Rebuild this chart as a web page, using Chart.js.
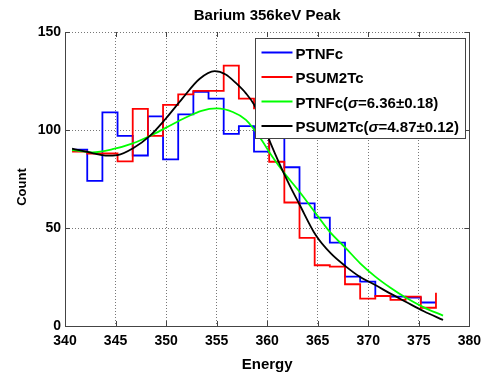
<!DOCTYPE html>
<html>
<head>
<meta charset="utf-8">
<script src="https://cdn.jsdelivr.net/npm/chart.js@4.4.1/dist/chart.umd.min.js"></script>
<style>
  body { margin: 0; background: #fff; }
  canvas { display: block; }
</style>
</head>
<body>
<canvas id="chart" width="488" height="373"></canvas>
<script>
// left edge of each histogram bin (keV), plus the closing edge
const binEdges = [340.7, 342.2, 343.7, 345.2, 346.7, 348.2, 349.7, 351.2, 352.7, 354.2, 355.7, 357.2, 358.7,
  360.2, 361.7, 363.2, 364.7, 366.2, 367.7, 369.2, 370.7, 372.2, 373.7, 375.2, 376.7];

// counts per bin
const ptnfcCounts = [90, 74, 109, 97, 87, 107, 85, 108, 119.5, 116, 98, 102, 89,
  100, 81, 62.6, 55.3, 42.5, 25.2, 22.6, 15.3, 15, 14.5, 12, 12];
const psum2tcCounts = [89, 88, 88, 84, 110.8, 97, 112.8, 118.2, 120, 120, 132.8, 116, 111,
  83.8, 63, 45, 31, 30.3, 21.3, 14, 15.3, 13.3, 15, 9.3, 17];

// fitted curves
const ptnfcFitX = [340.7, 342.7, 344.7, 346.7, 348.5, 350, 352, 353.5, 355, 356.6, 357.9, 358.6, 359.5,
  360.5, 361.7, 363.2, 364.8, 366.2, 367.8, 369.2, 370.7, 372.2, 373.7, 375.5, 377.4];
const ptnfcFitY = [89.8, 88.6, 90.2, 93.2, 97.2, 101.2, 106.5, 109.8, 111, 109.2, 105.2, 101, 94.5,
  86.5, 78, 68.5, 57.5, 48, 39.6, 32, 25.2, 19.5, 14.5, 9.5, 5.3];

const psum2tcFitX = [340.7, 342.8, 344, 345.2, 346.7, 348.4, 350, 351.6, 353.3, 354.8, 355.9, 356.9, 357.9,
  358.7, 359.5, 360.2, 361.2, 362.2, 363.2, 364.8, 366.3, 367.8, 369.2, 370.7, 372.2, 373.7, 375.5, 377.4];
const psum2tcFitY = [90.5, 88.1, 86.9, 87.2, 90.6, 97, 106, 116, 126, 130, 128.3, 124, 118.7,
  113, 104, 95, 83, 72, 62, 46.4, 37, 30.3, 25, 20.9, 16.5, 12.4, 7.5, 3.1];

const xTicks = [340, 345, 350, 355, 360, 365, 370, 375, 380];
const yTicks = [0, 50, 100, 150];

const seriesLabels = ["PTNFc", "PSUM2Tc", "PTNFc(σ=6.36±0.18)", "PSUM2Tc(σ=4.87±0.12)"];

const FONT = "'Liberation Sans', Arial, Helvetica, sans-serif";

function toPoints(xs, ys) {
  return xs.map((x, i) => ({ x: x, y: ys[i] }));
}

// title, y label, right border and inward tick marks like a matlab axes box
const axesBox = {
  id: "axesBox",
  afterDatasetsDraw(chart) {
    const { ctx, chartArea: a, scales } = chart;
    ctx.save();
    ctx.strokeStyle = "#444";
    ctx.lineWidth = 1;
    ctx.beginPath();
    scales.x.ticks.forEach((t) => {
      const px = Math.round(scales.x.getPixelForValue(t.value)) + 0.5;
      ctx.moveTo(px, a.bottom);
      ctx.lineTo(px, a.bottom - 5);
      ctx.moveTo(px, a.top);
      ctx.lineTo(px, a.top + 5);
    });
    scales.y.ticks.forEach((t) => {
      const py = Math.round(scales.y.getPixelForValue(t.value)) + 0.5;
      ctx.moveTo(a.left, py);
      ctx.lineTo(a.left + 5, py);
      ctx.moveTo(a.right, py);
      ctx.lineTo(a.right - 5, py);
    });
    ctx.moveTo(Math.round(a.right) + 0.5, a.top);
    ctx.lineTo(Math.round(a.right) + 0.5, a.bottom);
    ctx.stroke();

    ctx.fillStyle = "#000";
    ctx.font = "bold 15px " + FONT;
    ctx.textAlign = "center";
    ctx.textBaseline = "middle";
    ctx.fillText("Barium 356keV Peak", (a.left + a.right) / 2, 15.5);

    ctx.translate(22.5, (a.top + a.bottom) / 2 + 8);
    ctx.rotate(-Math.PI / 2);
    ctx.font = "bold 13px " + FONT;
    ctx.fillText("Count", 0, 0);
    ctx.restore();
  },
};

// boxed legend sitting inside the plot, over the data
const boxLegend = {
  id: "boxLegend",
  afterDraw(chart) {
    const { ctx, chartArea: a } = chart;
    const w = 210, h = 100;
    const left = Math.round(a.right - w - 4) + 0.5;
    const top = Math.round(a.top + 6) + 0.5;
    ctx.save();
    ctx.fillStyle = "#fff";
    ctx.fillRect(left, top, w, h);
    ctx.strokeStyle = "#444";
    ctx.lineWidth = 1;
    ctx.strokeRect(left, top, w, h);

    chart.data.datasets.forEach((ds, i) => {
      const ly = top + 14 + i * 24.5;
      ctx.strokeStyle = ds.borderColor;
      ctx.lineWidth = 2;
      ctx.beginPath();
      ctx.moveTo(left + 6, ly);
      ctx.lineTo(left + 37, ly);
      ctx.stroke();

      ctx.fillStyle = "#000";
      ctx.textAlign = "left";
      ctx.textBaseline = "middle";
      let tx = left + 40;
      const parts = ds.label.split("σ");
      parts.forEach((p, j) => {
        if (j > 0) {
          ctx.font = "italic bold 15px " + FONT;
          ctx.fillText("σ", tx, ly + 2);
          tx += ctx.measureText("σ").width;
        }
        ctx.font = "bold 15px " + FONT;
        ctx.fillText(p, tx, ly + 2);
        tx += ctx.measureText(p).width;
      });
    });
    ctx.restore();
  },
};

const gridOpts = { color: "#777", lineWidth: 1, drawTicks: false };
const tickFont = { family: FONT, size: 14, weight: "bold" };

new Chart(document.getElementById("chart"), {
  type: "scatter",
  data: {
    datasets: [
      {
        label: seriesLabels[0],
        data: toPoints(binEdges, ptnfcCounts),
        borderColor: "#0000ff",
        stepped: true,
        order: 4,
      },
      {
        label: seriesLabels[1],
        data: toPoints(binEdges, psum2tcCounts),
        borderColor: "#ff0000",
        stepped: true,
        order: 3,
      },
      {
        label: seriesLabels[2],
        data: toPoints(ptnfcFitX, ptnfcFitY),
        borderColor: "#00ff00",
        cubicInterpolationMode: "monotone",
        order: 2,
      },
      {
        label: seriesLabels[3],
        data: toPoints(psum2tcFitX, psum2tcFitY),
        borderColor: "#000000",
        cubicInterpolationMode: "monotone",
        order: 1,
      },
    ],
  },
  options: {
    responsive: false,
    animation: false,
    showLine: true,
    layout: { padding: { top: 32, right: 17, bottom: 0, left: 0 } },
    elements: {
      point: { radius: 0, hoverRadius: 0 },
      line: { borderWidth: 1.8, fill: false },
    },
    plugins: {
      legend: { display: false },
      tooltip: { enabled: false },
    },
    scales: {
      x: {
        type: "linear",
        min: 340,
        max: 380,
        afterBuildTicks: (s) => { s.ticks = xTicks.map((v) => ({ value: v })); },
        afterFit: (s) => { s.height = 47; },
        grid: gridOpts,
        border: { display: true, color: "#444", width: 1, dash: [1, 2] },
        ticks: { font: tickFont, color: "#000", padding: 7, maxRotation: 0, autoSkip: false },
        title: {
          display: true,
          text: "Energy",
          color: "#000",
          font: { family: FONT, size: 15, weight: "bold" },
          padding: { top: 0, bottom: -1 },
        },
      },
      y: {
        type: "linear",
        min: 0,
        max: 150,
        afterBuildTicks: (s) => { s.ticks = yTicks.map((v) => ({ value: v })); },
        afterFit: (s) => { s.width = 65; },
        grid: gridOpts,
        border: { display: true, color: "#444", width: 1, dash: [1, 2] },
        ticks: { font: tickFont, color: "#000", padding: 4 },
      },
    },
  },
  plugins: [axesBox, boxLegend],
});
</script>
</body>
</html>
